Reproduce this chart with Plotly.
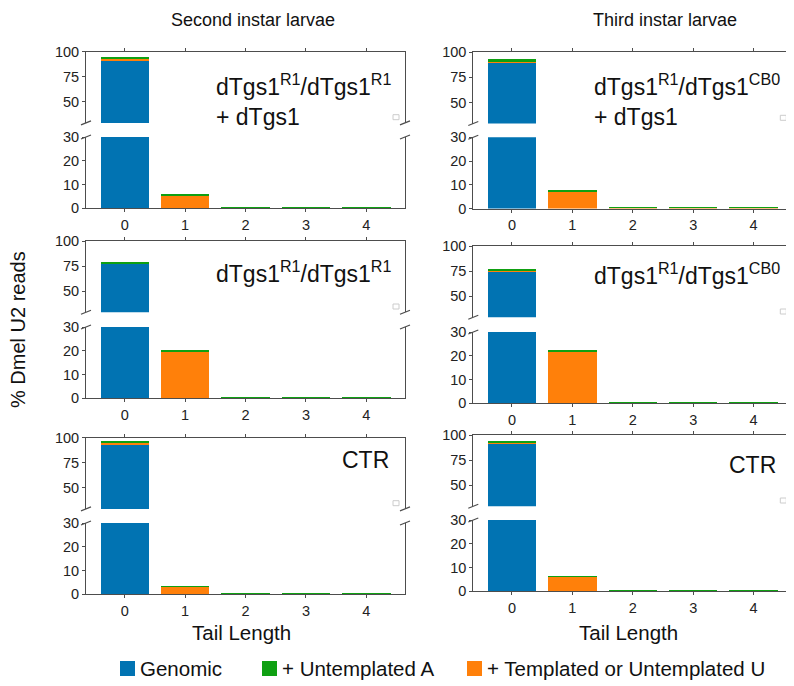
import plotly.graph_objects as go

# Page body has an 8px margin, so the figure is sized to fit inside the window
OFF = 8
W, H = 794 - OFF, 686 - OFF

tails = [0, 1, 2, 3, 4]
tail_labels = ["0", "1", "2", "3", "4"]

# Panel data (values in % of reads)
genomic_2nd_rescue = [92.0, 0.0, 0.0, 0.0, 0.0]
templU_2nd_rescue = [0.7, 5.3, 0.1, 0.1, 0.1]
untemplA_2nd_rescue = [2.3, 0.3, 0.1, 0.1, 0.1]

genomic_3rd_rescue = [90.0, 0.0, 0.0, 0.0, 0.0]
templU_3rd_rescue = [0.7, 7.0, 0.1, 0.2, 0.2]
untemplA_3rd_rescue = [2.3, 0.3, 0.1, 0.1, 0.1]

genomic_2nd_mutant = [77.5, 0.0, 0.0, 0.0, 0.0]
templU_2nd_mutant = [0.2, 19.4, 0.1, 0.1, 0.1]
untemplA_2nd_mutant = [1.5, 0.9, 0.1, 0.1, 0.1]

genomic_3rd_mutant = [74.7, 0.0, 0.0, 0.0, 0.0]
templU_3rd_mutant = [0.6, 21.6, 0.2, 0.2, 0.1]
untemplA_3rd_mutant = [2.0, 0.9, 0.1, 0.1, 0.1]

genomic_2nd_ctr = [93.7, 0.0, 0.0, 0.0, 0.0]
templU_2nd_ctr = [0.6, 3.1, 0.1, 0.1, 0.1]
untemplA_2nd_ctr = [2.2, 0.1, 0.1, 0.1, 0.4]

genomic_3rd_ctr = [92.0, 0.0, 0.0, 0.0, 0.0]
templU_3rd_ctr = [0.3, 6.0, 0.1, 0.1, 0.1]
untemplA_3rd_ctr = [2.0, 0.3, 0.1, 0.1, 0.1]

series_names = ["Genomic", "+ Untemplated A", "+ Templated or Untemplated U"]
colors = {"Genomic": "#0173B2", "+ Untemplated A": "#0FA012", "+ Templated or Untemplated U": "#FF800A"}

col_titles = ["Second instar larvae", "Third instar larvae"]
upper_ticks = [50, 75, 100]
lower_ticks = [0, 10, 20, 30]

FONT = "Liberation Sans, Arial, sans-serif"
AXC = "#4d4d4d"
TXT = "#111111"

def px(x):
    return (x - OFF) / W

def py(y):
    return 1 - (y - OFF) / H

col_x = [(86.0, 405.0), (473.3, 792.3)]
title_cx = [253, 665]
xtitle_cx = [241.5, 628]
panels = [
    dict(col=0, up=51.7, lo=137.0, g=genomic_2nd_rescue, u=templU_2nd_rescue, a=untemplA_2nd_rescue,
         label="dTgs1<sup>R1</sup>/dTgs1<sup>R1</sup><br>+ dTgs1", lx=214, ly=100, anchor="left"),
    dict(col=1, up=52.3, lo=137.3, g=genomic_3rd_rescue, u=templU_3rd_rescue, a=untemplA_3rd_rescue,
         label="dTgs1<sup>R1</sup>/dTgs1<sup>CB0</sup><br>+ dTgs1", lx=592, ly=100, anchor="left"),
    dict(col=0, up=241.0, lo=327.0, g=genomic_2nd_mutant, u=templU_2nd_mutant, a=untemplA_2nd_mutant,
         label="dTgs1<sup>R1</sup>/dTgs1<sup>R1</sup>", lx=214, ly=272, anchor="left"),
    dict(col=1, up=246.0, lo=332.0, g=genomic_3rd_mutant, u=templU_3rd_mutant, a=untemplA_3rd_mutant,
         label="dTgs1<sup>R1</sup>/dTgs1<sup>CB0</sup>", lx=592, ly=274, anchor="left"),
    dict(col=0, up=437.7, lo=523.0, g=genomic_2nd_ctr, u=templU_2nd_ctr, a=untemplA_2nd_ctr,
         label="CTR", lx=391, ly=460, anchor="right"),
    dict(col=1, up=435.0, lo=520.0, g=genomic_3rd_ctr, u=templU_3rd_ctr, a=untemplA_3rd_ctr,
         label="CTR", lx=778, ly=465, anchor="right"),
]
PH = 71.2  # panel height px

fig = go.Figure()
layout = {}
shapes = []
annotations = []

for i, p in enumerate(panels):
    ui, li = 2 * i + 1, 2 * i + 2
    x0p, x1p = col_x[p["col"]]
    xdom = [px(x0p), px(x1p)]
    for idx, (ax_i, top, rng, tv, is_upper) in enumerate([
        (ui, p["up"], [29, 100], upper_ticks, True),
        (li, p["lo"], [0, 30], lower_ticks, False),
    ]):
        xa = "xaxis" if ax_i == 1 else f"xaxis{ax_i}"
        ya = "yaxis" if ax_i == 1 else f"yaxis{ax_i}"
        xr = "x" if ax_i == 1 else f"x{ax_i}"
        yr = "y" if ax_i == 1 else f"y{ax_i}"
        ydom = [py(top + PH), py(top)]
        layout[xa] = dict(domain=xdom, anchor=yr, range=[-0.64, 4.64], automargin=False,
                          side="top" if is_upper else "bottom",
                          tickvals=tails, ticktext=tail_labels,
                          showticklabels=not is_upper,
                          ticks="outside", ticklen=3, tickcolor=AXC,
                          showline=True, linecolor=AXC, linewidth=1,
                          showgrid=False, zeroline=False,
                          tickfont=dict(size=14.5, color="#222222", family=FONT))
        layout[ya] = dict(domain=ydom, anchor=xr, range=rng, tickvals=tv, automargin=False,
                          ticks="outside", ticklen=3, tickcolor=AXC,
                          showline=True, mirror=True, linecolor=AXC, linewidth=1,
                          showgrid=False, zeroline=False,
                          tickfont=dict(size=14.5, color="#222222", family=FONT))
        for name, vals in [("Genomic", p["g"]),
                           ("+ Templated or Untemplated U", p["u"]),
                           ("+ Untemplated A", p["a"])]:
            fig.add_trace(go.Bar(x=tails, y=vals, name=name, xaxis=xr, yaxis=yr,
                                 marker=dict(color=colors[name], line=dict(width=0)),
                                 showlegend=False))
    # axis break marks
    for xx in (x0p, x1p):
        for yy in (p["up"] + PH, p["lo"]):
            shapes.append(dict(type="line", xref="paper", yref="paper",
                               x0=px(xx - 5), y0=py(yy + 2), x1=px(xx + 5), y1=py(yy - 2),
                               line=dict(color=AXC, width=1.2)))
    # empty legend box
    shapes.append(dict(type="rect", xref="paper", yref="paper",
                       x0=px(x1p - 12), x1=px(x1p - 6), y0=py(p["up"] + 68), y1=py(p["up"] + 63),
                       line=dict(color="#cccccc", width=1), fillcolor="white"))
    annotations.append(dict(text=p["label"], xref="paper", yref="paper",
                            x=px(p["lx"]), y=py(p["ly"]), xanchor=p["anchor"], yanchor="middle",
                            align="left", showarrow=False,
                            font=dict(size=23, color=TXT, family=FONT)))

# column titles and x titles
for c, t in enumerate(col_titles):
    annotations.append(dict(text=t, xref="paper", yref="paper",
                            x=px(title_cx[c]), y=py(20), xanchor="center", yanchor="middle",
                            showarrow=False, font=dict(size=18, color=TXT, family=FONT)))
    annotations.append(dict(text="Tail Length", xref="paper", yref="paper",
                            x=px(xtitle_cx[c]), y=py(632), xanchor="center", yanchor="middle",
                            showarrow=False, font=dict(size=20.5, color=TXT, family=FONT)))
annotations.append(dict(text="% Dmel U2 reads", xref="paper", yref="paper",
                        x=px(18), y=py(330), xanchor="center", yanchor="middle",
                        textangle=-90, showarrow=False,
                        font=dict(size=20, color=TXT, family=FONT)))

# legend (drawn as swatches + labels)
legend_x = [120, 262, 467]
for name, lxp in zip(series_names, legend_x):
    shapes.append(dict(type="rect", xref="paper", yref="paper",
                       x0=px(lxp), x1=px(lxp + 15), y0=py(676), y1=py(661),
                       fillcolor=colors[name], line=dict(width=0)))
    annotations.append(dict(text=name, xref="paper", yref="paper",
                            x=px(lxp + 18), y=py(668.5), xanchor="left", yanchor="middle",
                            showarrow=False, font=dict(size=20.5, color=TXT, family=FONT)))

fig.update_layout(
    width=W, height=H, margin=dict(l=0, r=0, t=0, b=0, autoexpand=False),
    paper_bgcolor="white", plot_bgcolor="white",
    barmode="stack", bargap=0.2, showlegend=False,
    font=dict(family=FONT),
    shapes=shapes, annotations=annotations,
    **layout,
)

fig.write_html("out.html")
